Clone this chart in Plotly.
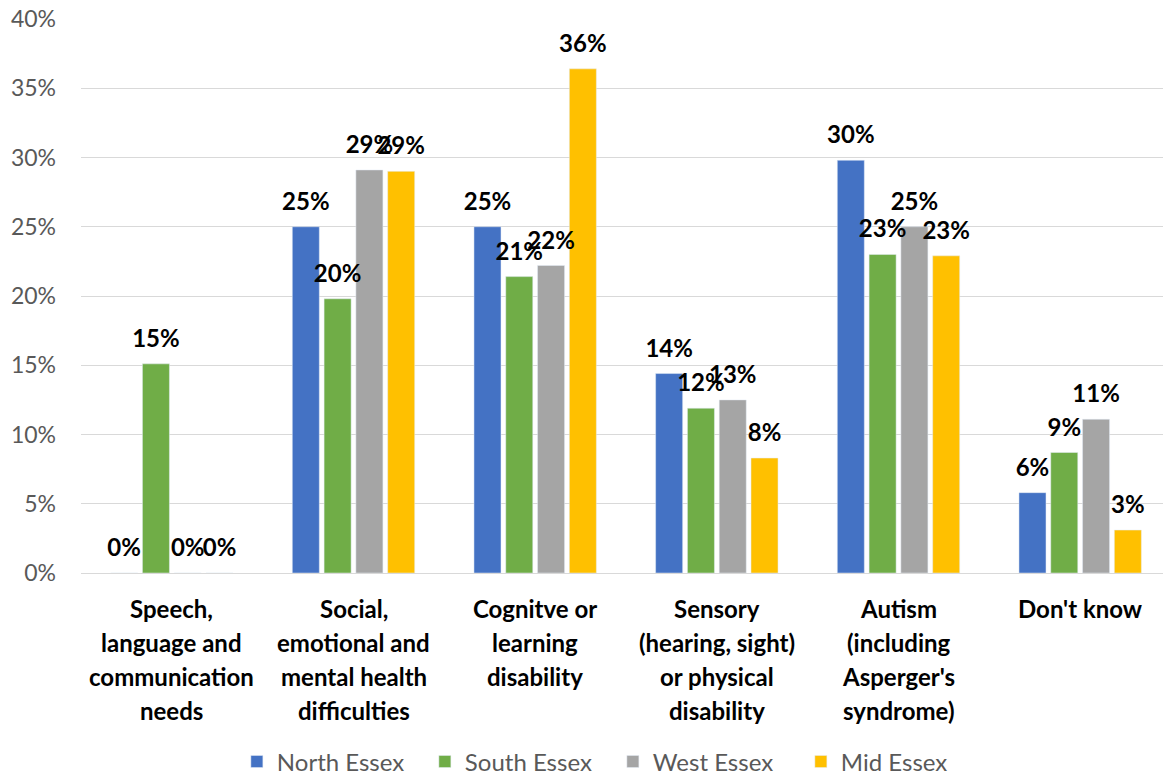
import math
import plotly.graph_objects as go

categories = ["Speech, language and communication needs",
              "Social, emotional and mental health difficulties",
              "Cognitve or learning disability",
              "Sensory (hearing, sight) or physical disability",
              "Autism (including Asperger's syndrome)",
              "Don't know"]
category_lines = [["Speech,", "language and", "communication", "needs"],
                  ["Social,", "emotional and", "mental health", "difficulties"],
                  ["Cognitve or", "learning", "disability"],
                  ["Sensory", "(hearing, sight)", "or physical", "disability"],
                  ["Autism", "(including", "Asperger's", "syndrome)"],
                  ["Don't know"]]

north = [0.0, 25.0, 25.0, 14.4, 29.8, 5.8]
south = [15.1, 19.8, 21.4, 11.9, 23.0, 8.7]
west = [0.0, 29.1, 22.2, 12.5, 25.0, 11.1]
mid = [0.0, 29.0, 36.4, 8.3, 22.9, 3.1]

series = [("North Essex", north, "#4472C4"),
          ("South Essex", south, "#70AD47"),
          ("West Essex", west, "#A5A5A5"),
          ("Mid Essex", mid, "#FFC000")]

FONT = "Lato"


def pct(v):
    return f"{int(math.floor(v + 0.5))}%"


fig = go.Figure()
for name, vals, color in series:
    fig.add_trace(go.Bar(
        x=categories, y=vals, name=name, marker_color=color,
        offsetgroup=name, hoverinfo="skip",
    ))
for name, vals, color in series:
    fig.add_trace(go.Scatter(
        x=categories, y=vals, name=name + " labels", mode="markers+text",
        marker=dict(size=16, color="rgba(0,0,0,0)"),
        text=[pct(v) for v in vals], textposition="top center",
        textfont=dict(family=FONT, size=24, color="#000000", weight="bold"),
        offsetgroup=name, showlegend=False, hoverinfo="skip", cliponaxis=False,
    ))

for cat, lines in zip(categories, category_lines):
    for i, line in enumerate(lines):
        fig.add_annotation(x=cat, y=0, xref="x", yref="y", text=line,
                           showarrow=False, yanchor="middle",
                           yshift=-(35 + 34 * i),
                           font=dict(family=FONT, size=24, color="#000000", weight="bold"))

fig.update_layout(
    width=1163, height=767,
    margin=dict(l=73, r=0, t=11, b=202, autoexpand=False),
    paper_bgcolor="white", plot_bgcolor="white",
    barmode="group", bargap=0.30, bargroupgap=0.15,
    scattermode="group", scattergap=0.30,
    font=dict(family=FONT),
    showlegend=True,
    legend=dict(orientation="h", x=0.143, xanchor="left", y=-0.341, yanchor="middle",
                font=dict(family=FONT, size=24, color="#595959"),
                entrywidth=143, entrywidthmode="pixels", itemwidth=30,
                traceorder="normal"),
    xaxis=dict(showticklabels=False, showline=True, linecolor="#D9D9D9", linewidth=1,
               ticks=""),
    yaxis=dict(range=[0, 40], dtick=5, ticksuffix="%", showgrid=True,
               gridcolor="#D9D9D9", gridwidth=1, zeroline=False,
               tickfont=dict(family=FONT, size=23, color="#595959"),
               ticks="", ticklabelstandoff=24, ticklabeloverflow="allow"),
)
fig.write_html("out.html")
